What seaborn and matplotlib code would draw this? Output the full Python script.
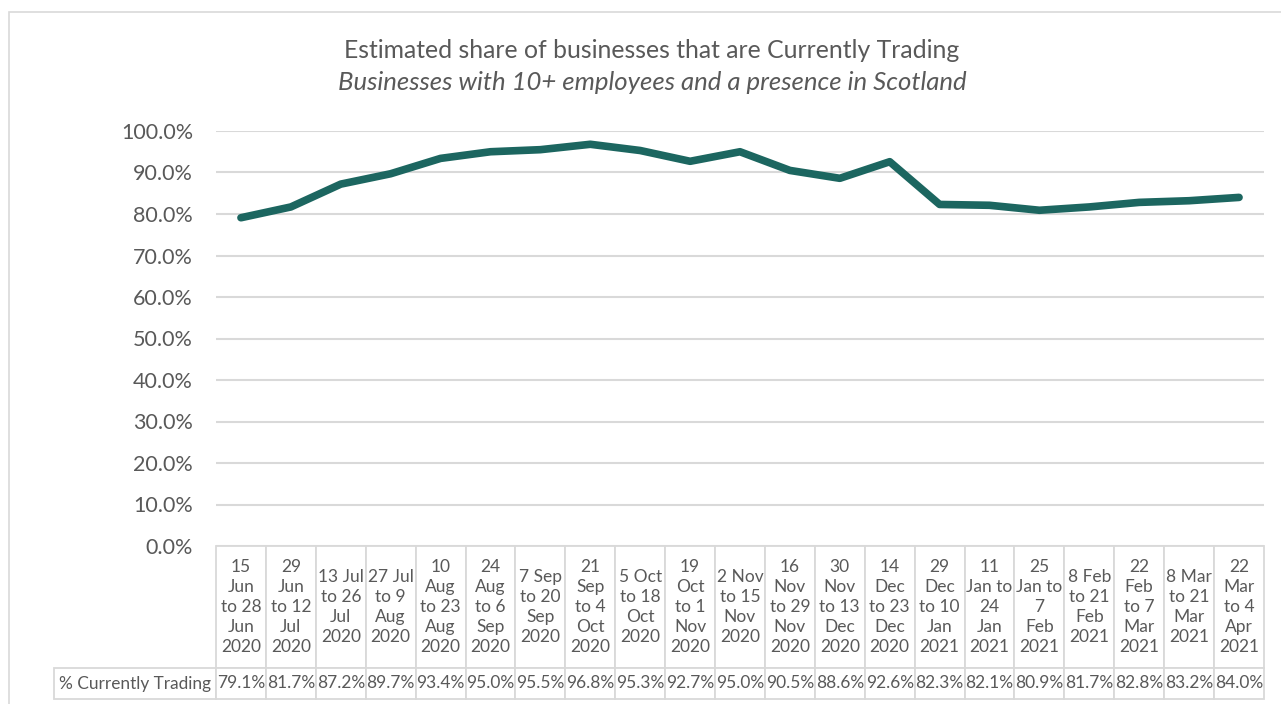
import matplotlib.pyplot as plt
import matplotlib.patches as mpatches
import seaborn as sns
import pandas as pd

periods = [
    "15\nJun\nto 28\nJun\n2020", "29\nJun\nto 12\nJul\n2020", "13 Jul\nto 26\nJul\n2020",
    "27 Jul\nto 9\nAug\n2020", "10\nAug\nto 23\nAug\n2020", "24\nAug\nto 6\nSep\n2020",
    "7 Sep\nto 20\nSep\n2020", "21\nSep\nto 4\nOct\n2020", "5 Oct\nto 18\nOct\n2020",
    "19\nOct\nto 1\nNov\n2020", "2 Nov\nto 15\nNov\n2020", "16\nNov\nto 29\nNov\n2020",
    "30\nNov\nto 13\nDec\n2020", "14\nDec\nto 23\nDec\n2020", "29\nDec\nto 10\nJan\n2021",
    "11\nJan to\n24\nJan\n2021", "25\nJan to\n7\nFeb\n2021", "8 Feb\nto 21\nFeb\n2021",
    "22\nFeb\nto 7\nMar\n2021", "8 Mar\nto 21\nMar\n2021", "22\nMar\nto 4\nApr\n2021",
]
pct_trading = [79.1, 81.7, 87.2, 89.7, 93.4, 95.0, 95.5, 96.8, 95.3, 92.7, 95.0,
               90.5, 88.6, 92.6, 82.3, 82.1, 80.9, 81.7, 82.8, 83.2, 84.0]
series_name = "% Currently Trading"
title = "Estimated share of businesses that are Currently Trading"
subtitle = "Businesses with 10+ employees and a presence in Scotland"

sns.set_style("white")
plt.rcParams['font.family'] = ['Lato', 'DejaVu Sans']

TXT = "#595959"
GRID = "#D9D9D9"
LINE = "#1C6660"

df = pd.DataFrame({"idx": range(len(pct_trading)), "pct": pct_trading})

W, H = 1281, 704
fig = plt.figure(figsize=(W / 100, H / 100), dpi=100)

# outer chart border
fig.patches.append(mpatches.Rectangle((9 / W, -0.1), 1.2, 1 - 12 / H + 0.1,
                                      transform=fig.transFigure, fill=False,
                                      edgecolor=GRID, linewidth=1.2))

left, right, top, bot = 216, 1264, 131, 546
ax = fig.add_axes([left / W, 1 - bot / H, (right - left) / W, (bot - top) / H])

sns.lineplot(data=df, x="idx", y="pct", ax=ax, color=LINE, linewidth=5.5,
             solid_capstyle="round", solid_joinstyle="round")

ax.set_xlim(-0.5, len(pct_trading) - 0.5)
ax.set_ylim(0, 100)
ax.set_yticks(range(0, 101, 10))
ax.set_yticklabels([f"{v:.1f}%" for v in range(0, 101, 10)])
ax.tick_params(axis="y", length=0, pad=16.5, labelsize=15.5, labelcolor=TXT)
ax.set_xticks([])
ax.set_xlabel("")
ax.set_ylabel("")
ax.grid(axis="y", color=GRID, linewidth=1.5)
ax.set_axisbelow(True)
for s in ax.spines.values():
    s.set_visible(False)

# data table under the axis; sizes in axes fractions so the bbox needs no rescale
aw = right - left
ah = bot - top
label_w = 162 / aw
col_w = 1 / len(pct_trading)
head_h, row_h = 122 / ah, 31 / ah
tbl = ax.table(cellText=[[f"{v:.1f}%" for v in pct_trading]],
               rowLabels=[series_name], colLabels=periods,
               cellLoc="center", rowLoc="center",
               bbox=[0, -(head_h + row_h), 1, head_h + row_h])
tbl._autoColumns = []  # keep the fixed row-label width
tbl.auto_set_font_size(False)
tbl.set_fontsize(12.5)
for (r, c), cell in tbl.get_celld().items():
    cell.set_edgecolor(GRID)
    cell.set_linewidth(1.3)
    cell.set_width(label_w if c == -1 else col_w)
    cell.set_height(head_h if r == 0 else row_h)
    cell.get_text().set_color(TXT)
    cell.get_text().set_linespacing(1.3)
    if c == -1:
        cell.get_text().set_fontsize(12.4)

fig.text(652 / W, 1 - 51 / H, title, ha="center", va="center", fontsize=17.8, color=TXT)
fig.text(652 / W, 1 - 83 / H, subtitle, ha="center", va="center", fontsize=18.5,
         color=TXT, style="italic")

fig.savefig("out.png", dpi=100)
